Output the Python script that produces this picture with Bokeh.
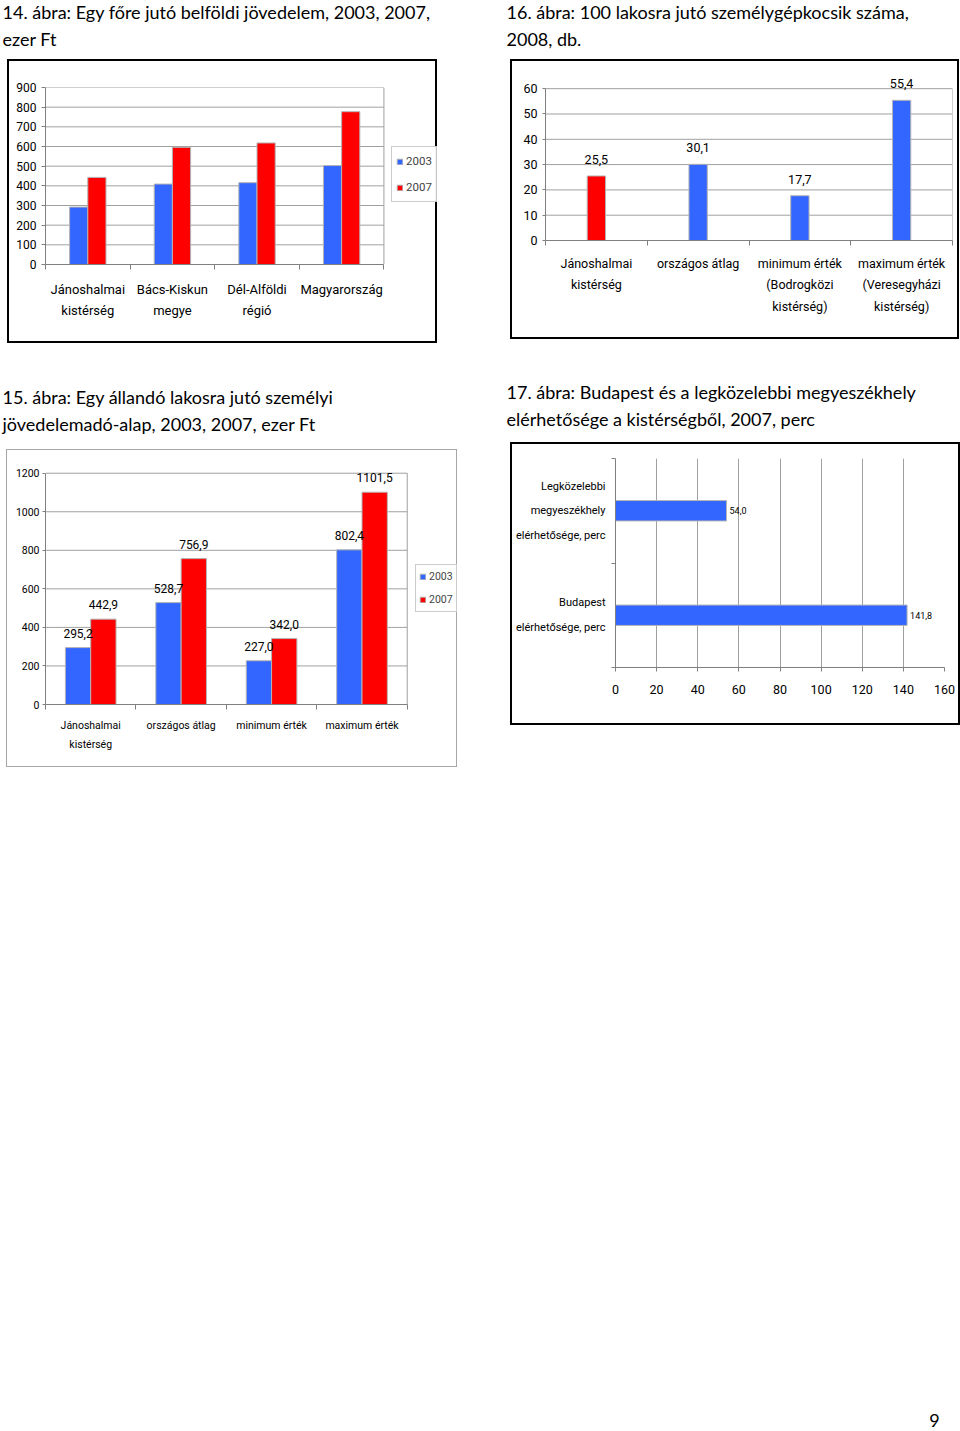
from bokeh.plotting import figure
from bokeh.models import Range1d, FixedTicker, Legend, LegendItem, Spacer
from bokeh.layouts import column, row
from bokeh.embed import file_html
from bokeh.resources import INLINE
from bokeh.core.properties import value

BLUE = "#3366FF"
RED = "#FF0000"
EDGE = "#b4b4b4"
GRID = "#a0a0a0"
AXIS = "#808080"
NARROW = "Roboto"
TFONT = "Lato"

# ---------------- data ----------------
# 14. ábra
c14_categories = ["Jánoshalmai\nkistérség", "Bács-Kiskun\nmegye", "Dél-Alföldi\nrégió", "Magyarország"]
c14_2003 = [292, 409, 416, 503]
c14_2007 = [443, 596, 618, 777]
c14_yticks = [0, 100, 200, 300, 400, 500, 600, 700, 800, 900]

# 16. ábra
c16_categories = ["Jánoshalmai\nkistérség", "országos átlag", "minimum érték\n(Bodrogközi\nkistérség)",
                  "maximum érték\n(Veresegyházi\nkistérség)"]
c16_values = [25.5, 30.1, 17.7, 55.4]
c16_yticks = [0, 10, 20, 30, 40, 50, 60]

# 15. ábra
c15_categories = ["Jánoshalmai\nkistérség", "országos átlag", "minimum érték", "maximum érték"]
c15_2003 = [295.2, 528.7, 227.0, 802.4]
c15_2007 = [442.9, 756.9, 342.0, 1101.5]
c15_yticks = [0, 200, 400, 600, 800, 1000, 1200]

# 17. ábra
c17_categories = ["Legközelebbi\nmegyeszékhely\nelérhetősége, perc", "Budapest\nelérhetősége, perc"]
c17_values = [54.0, 141.8]
c17_xticks = [0, 20, 40, 60, 80, 100, 120, 140, 160]

series_names = ["2003", "2007"]

titles_top = [("14. ábra: Egy főre jutó belföldi jövedelem, 2003, 2007,", "ezer Ft"),
              ("16. ábra: 100 lakosra jutó személygépkocsik száma,", "2008, db.")]
titles_mid = [("15. ábra: Egy állandó lakosra jutó személyi", "jövedelemadó-alap, 2003, 2007, ezer Ft"),
              ("17. ábra: Budapest és a legközelebbi megyeszékhely", "elérhetősége a kistérségből, 2007, perc")]
page_number = "9"


def hu(v):
    return f"{v:.1f}".replace(".", ",")


def base_fig(w, h, xr, yr, bl, br, bt, bb, border):
    p = figure(width=w, height=h, x_range=xr, y_range=yr, output_backend="svg", title=None,
               toolbar_location=None, min_border_left=bl, min_border_right=br,
               min_border_top=bt, min_border_bottom=bb)
    p.styles = {"border": border, "box-sizing": "content-box"}
    p.background_fill_color = "white"
    p.border_fill_color = "white"
    p.outline_line_color = AXIS
    p.axis.axis_line_color = AXIS
    p.axis.major_label_text_color = "black"
    p.axis.minor_tick_line_color = None
    p.axis.major_tick_line_color = AXIS
    p.axis.major_tick_in = 0
    return p


def cat_axis_x(p, cats, font_size, line_h, standoff):
    n = len(cats)
    centers = [i + 0.5 for i in range(n)]
    p.xaxis.ticker = FixedTicker(ticks=centers, minor_ticks=list(range(n + 1)))
    p.xaxis.major_label_overrides = {c: lab for c, lab in zip(centers, cats)}
    p.xaxis.major_tick_line_color = None
    p.xaxis.minor_tick_line_color = AXIS
    p.xaxis.minor_tick_in = 0
    p.xaxis.minor_tick_out = 5
    p.xaxis.major_label_text_font = NARROW
    p.xaxis.major_label_text_font_size = font_size
    p.xaxis.major_label_text_line_height = line_h
    p.xaxis.major_label_standoff = standoff
    p.xaxis.bounds = (0, n)
    p.xgrid.visible = False
    return centers


def num_axis_y(p, ticks, font_size, standoff, tick_out):
    p.yaxis.ticker = FixedTicker(ticks=ticks)
    p.yaxis.major_label_text_font = NARROW
    p.yaxis.major_label_text_font_size = font_size
    p.yaxis.major_label_standoff = standoff
    p.yaxis.major_tick_out = tick_out
    p.yaxis.bounds = (0, max(ticks))


def plot_area(p, n, ticks):
    # grid lines and frame of the category area only (room is left for labels / legend)
    p.outline_line_color = None
    p.ygrid.visible = False
    top = max(ticks)
    p.segment(x0=[0] * len(ticks), y0=ticks, x1=[n] * len(ticks), y1=ticks, line_color=GRID, line_width=1)
    p.segment(x0=[n], y0=[0], x1=[n], y1=[top], line_color=GRID, line_width=1)


def make_legend(renderers, loc, font_size, label_h, padding, spacing):
    return Legend(items=[LegendItem(label=s, renderers=[r]) for s, r in zip(series_names, renderers)],
                  location=loc, glyph_width=7, glyph_height=7, label_standoff=3,
                  padding=padding, spacing=spacing, label_height=label_h, margin=0,
                  label_text_font=NARROW, label_text_font_size=font_size,
                  border_line_color="#999999", border_line_width=1, background_fill_color="white")


def value_labels(p, xs, ys, vals, size, **kw):
    p.text(x=xs, y=ys, text=[hu(v) for v in vals], text_font=value(NARROW),
           text_font_size=size, text_color="black", **kw)


def text_fig(w, h, xs, ys, texts, font, size, align="left"):
    p = figure(width=w, height=h, x_range=Range1d(0, w), y_range=Range1d(h, 0), title=None,
               output_backend="svg", toolbar_location=None, min_border=0,
               x_axis_location=None, y_axis_location=None)
    p.grid.visible = False
    p.outline_line_color = None
    p.text(x=xs, y=ys, text=texts, text_font=value(font), text_font_size=size,
           text_baseline="middle", text_align=align, text_color="black")
    return p


# ---------------- 14 ----------------
n14 = len(c14_categories)
room14 = 0.645          # space right of the categories, in category widths, for the legend
p14 = base_fig(426, 280, Range1d(0, n14 + room14), Range1d(0, max(c14_yticks)), 36, 1, 26, 81,
               "2px solid black")
ctr = cat_axis_x(p14, c14_categories, "13px", 1.45, 11)
num_axis_y(p14, c14_yticks, "12px", 5, 4)
plot_area(p14, n14, c14_yticks)
bw = 0.215
r1 = p14.vbar(x=[c - bw / 2 for c in ctr], top=c14_2003, width=bw, fill_color=BLUE, line_color=EDGE)
r2 = p14.vbar(x=[c + bw / 2 for c in ctr], top=c14_2007, width=bw, fill_color=RED, line_color=EDGE)
p14.add_layout(make_legend([r1, r2], (346, 62), "11.5px", 20, 4, 6))

# ---------------- 16 ----------------
n16 = len(c16_categories)
p16 = base_fig(445, 276, Range1d(0, n16), Range1d(0, 66), 33, 9, 12, 101, "2px solid black")
ctr = cat_axis_x(p16, c16_categories, "12.5px", 1.45, 9)
num_axis_y(p16, c16_yticks, "12.5px", 5, 3)
plot_area(p16, n16, c16_yticks)
colors16 = [RED if c.startswith("Jánoshalmai") else BLUE for c in c16_categories]
p16.vbar(x=ctr, top=c16_values, width=0.18, fill_color=colors16, line_color=EDGE)
value_labels(p16, ctr, c16_values, c16_values, "12.5px", text_align="center",
             text_baseline="bottom", y_offset=-12)

# ---------------- 15 ----------------
n15 = len(c15_categories)
room15 = 0.556
p15 = base_fig(449, 316, Range1d(0, n15 + room15), Range1d(0, 1240), 38, 1, 15, 64, "1px solid #a6a6a6")
ctr = cat_axis_x(p15, c15_categories, "10.5px", 1.47, 8)
num_axis_y(p15, c15_yticks, "10.5px", 3, 3)
plot_area(p15, n15, c15_yticks)
bw = 0.28
x3 = [c - bw / 2 for c in ctr]
x7 = [c + bw / 2 for c in ctr]
s1 = p15.vbar(x=x3, top=c15_2003, width=bw, fill_color=BLUE, line_color=EDGE)
s2 = p15.vbar(x=x7, top=c15_2007, width=bw, fill_color=RED, line_color=EDGE)
value_labels(p15, x3, c15_2003, c15_2003, "12px", text_align="center", text_baseline="bottom", y_offset=-10)
value_labels(p15, x7, c15_2007, c15_2007, "12px", text_align="center", text_baseline="bottom", y_offset=-10)
p15.add_layout(make_legend([s1, s2], (370, 92), "10.5px", 17, 3, 6))

# ---------------- 17 ----------------
n17 = len(c17_categories)
p17 = base_fig(446, 279, Range1d(0, max(c17_xticks)), Range1d(0, n17), 103, 18, 14, 60, "2px solid black")
p17.outline_line_color = None
ycent = [n17 - i - 0.5 for i in range(n17)]
p17.yaxis.ticker = FixedTicker(ticks=ycent, minor_ticks=list(range(n17 + 1)))
p17.yaxis.major_label_overrides = {c: lab for c, lab in zip(ycent, c17_categories)}
p17.yaxis.major_tick_line_color = None
p17.yaxis.minor_tick_line_color = AXIS
p17.yaxis.minor_tick_in = 0
p17.yaxis.minor_tick_out = 4
p17.yaxis.major_label_text_font = NARROW
p17.yaxis.major_label_text_font_size = "11px"
p17.yaxis.major_label_text_line_height = 1.9
p17.yaxis.major_label_standoff = 4
p17.ygrid.visible = False
p17.xaxis.ticker = FixedTicker(ticks=c17_xticks)
p17.xaxis.major_label_text_font = NARROW
p17.xaxis.major_label_text_font_size = "12.5px"
p17.xaxis.major_tick_out = 4
p17.xaxis.major_label_standoff = 13
p17.xgrid.grid_line_color = GRID
p17.hbar(y=ycent, right=c17_values, height=0.195, fill_color=BLUE, line_color=EDGE)
value_labels(p17, c17_values, ycent, c17_values, "9px", text_align="left", text_baseline="middle",
             x_offset=3)

# ---------------- titles ----------------
top = text_fig(960, 59,
               [2, 2, 506, 506], [11, 38, 11, 38],
               [titles_top[0][0], titles_top[0][1], titles_top[1][0], titles_top[1][1]], TFONT, "18px")
mid = text_fig(960, 99,
               [2, 2, 506, 506], [53, 80, 48, 75],
               [titles_mid[0][0], titles_mid[0][1], titles_mid[1][0], titles_mid[1][1]], TFONT, "18px")
bottom = text_fig(960, 25, [934], [14], [page_number], TFONT, "18px", align="center")

layout = column(
    top,
    row(Spacer(width=7, height=10), column(p14), Spacer(width=73, height=10), column(p16)),
    mid,
    row(Spacer(width=6, height=10), column(Spacer(width=10, height=7), p15), Spacer(width=53, height=10),
        column(p17)),
    Spacer(width=10, height=639),
    bottom,
)

open("out.html", "w").write(file_html(layout, INLINE))
